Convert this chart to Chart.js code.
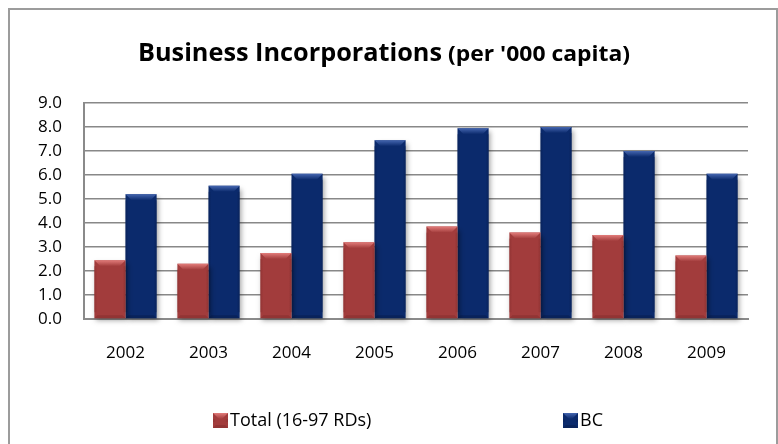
<!DOCTYPE html>
<html>
<head>
<meta charset="utf-8">
<script src="https://cdn.jsdelivr.net/npm/chart.js@4.4.1/dist/chart.umd.min.js"></script>
<style>
  html, body { margin: 0; padding: 0; background: #fff; overflow: hidden; }
  #frame {
    position: absolute; left: 8px; top: 8px;
    width: 770px; height: 470px;
    box-sizing: border-box;
    border: 2px solid #9c9c9c;
  }
  #incChart { position: absolute; left: 0; top: 0; }
</style>
</head>
<body>
<div id="frame"></div>
<canvas id="incChart" width="778" height="444"></canvas>
<script>
// Business incorporations per thousand people
const years = ["2002", "2003", "2004", "2005", "2006", "2007", "2008", "2009"];
const totalRDs = [2.45, 2.3, 2.75, 3.2, 3.85, 3.6, 3.5, 2.65];
const bcValues = [5.2, 5.55, 6.05, 7.45, 7.95, 8.0, 7.0, 6.05];
const yTicks = [0, 1, 2, 3, 4, 5, 6, 7, 8, 9];

const FONT = "'Open Sans', Lato, sans-serif";

const seriesStyle = [
  { fill: "#a23c3c", cap: "#e27c7a", edge: "#7e2a2a" },
  { fill: "#0b2a6c", cap: "#4566b0", edge: "#061a48" },
];

// Draws the bevelled top/bottom of a bar like an office chart
function bevel(ctx, left, right, top, bottom, style) {
  const b = Math.min(6, (bottom - top) / 2);
  // top cap
  let g = ctx.createLinearGradient(0, top, 0, top + b);
  g.addColorStop(0, style.cap);
  g.addColorStop(1, style.fill);
  ctx.fillStyle = g;
  ctx.beginPath();
  ctx.moveTo(left, top);
  ctx.lineTo(right, top);
  ctx.lineTo(right - b, top + b);
  ctx.lineTo(left + b, top + b);
  ctx.closePath();
  ctx.fill();
  // side edges
  ctx.globalAlpha = 0.45;
  g = ctx.createLinearGradient(left, 0, left + 3, 0);
  g.addColorStop(0, style.edge);
  g.addColorStop(1, style.fill);
  ctx.fillStyle = g;
  ctx.fillRect(left, top + b, 3, bottom - top - 2 * b);
  g = ctx.createLinearGradient(right - 3, 0, right, 0);
  g.addColorStop(0, style.fill);
  g.addColorStop(1, style.edge);
  ctx.fillStyle = g;
  ctx.fillRect(right - 3, top + b, 3, bottom - top - 2 * b);
  // bottom edge
  ctx.fillStyle = style.edge;
  ctx.beginPath();
  ctx.moveTo(left, bottom);
  ctx.lineTo(right, bottom);
  ctx.lineTo(right - 3, bottom - 3);
  ctx.lineTo(left + 3, bottom - 3);
  ctx.closePath();
  ctx.fill();
  ctx.globalAlpha = 1;
}

const barShadow = {
  id: "barShadow",
  beforeDatasetDraw(chart) {
    const ctx = chart.ctx;
    ctx.save();
    ctx.shadowColor = "rgba(0, 0, 0, 0.35)";
    ctx.shadowBlur = 5;
    ctx.shadowOffsetX = 2;
    ctx.shadowOffsetY = 3;
  },
  afterDatasetDraw(chart, args) {
    chart.ctx.restore();
    const ctx = chart.ctx;
    const style = seriesStyle[args.index];
    args.meta.data.forEach((bar) => {
      const p = bar.getProps(["x", "y", "base", "width"], true);
      bevel(ctx, p.x - p.width / 2, p.x + p.width / 2, p.y, p.base, style);
    });
  },
};

// bold text at a given size, squeezed horizontally into a width
function drawCondensed(ctx, text, size, x, y, width) {
  ctx.font = "bold " + size + "px " + FONT;
  const sx = width / ctx.measureText(text).width;
  ctx.save();
  ctx.translate(x, y);
  ctx.scale(sx, 1);
  ctx.fillText(text, 0, 0);
  ctx.restore();
}

// Two-size title above the plot
const splitTitle = {
  id: "splitTitle",
  afterDraw(chart) {
    const ctx = chart.ctx;
    ctx.save();
    ctx.fillStyle = "#000";
    ctx.textBaseline = "alphabetic";
    drawCondensed(ctx, "Business Incorporations", 25, 138, 61, 304);
    drawCondensed(ctx, "(per '000 capita)", 20.5, 448, 61, 182);
    ctx.restore();
  },
};

// Legend row under the axis
const legendRow = {
  id: "legendRow",
  afterDraw(chart) {
    const ctx = chart.ctx;
    const slots = [213, 563];
    ctx.save();
    chart.data.datasets.forEach((ds, i) => {
      const x = slots[i];
      const y = 413;
      const style = seriesStyle[i];
      ctx.fillStyle = style.fill;
      ctx.fillRect(x, y, 15, 15);
      bevel(ctx, x, x + 15, y, y + 15, style);
      ctx.fillStyle = "#000";
      ctx.font = "18px " + FONT;
      ctx.textBaseline = "middle";
      ctx.fillText(ds.label, x + 17, y + 8);
    });
    ctx.restore();
  },
};

const ctx = document.getElementById("incChart").getContext("2d");

new Chart(ctx, {
  type: "bar",
  data: {
    labels: years,
    datasets: [
      {
        label: "Total (16-97 RDs)",
        data: totalRDs,
        backgroundColor: seriesStyle[0].fill,
        clip: false,
      },
      {
        label: "BC",
        data: bcValues,
        backgroundColor: seriesStyle[1].fill,
        clip: false,
      },
    ],
  },
  options: {
    responsive: false,
    animation: false,
    devicePixelRatio: 1,
    layout: { padding: { left: 30, right: 30, top: 103, bottom: 0 } },
    datasets: {
      bar: { categoryPercentage: 0.75, barPercentage: 1 },
    },
    plugins: {
      legend: { display: false },
      title: { display: false },
      tooltip: { enabled: false },
    },
    scales: {
      x: {
        grid: { display: false, drawTicks: false },
        border: { display: true, color: "#8a8a8a", width: 2 },
        ticks: {
          color: "#000",
          padding: 24,
          font: { family: FONT, size: 17 },
        },
        afterFit: (scale) => {
          scale.height = 125;
        },
      },
      y: {
        min: 0,
        max: 9,
        afterBuildTicks: (scale) => {
          scale.ticks = yTicks.map((v) => ({ value: v }));
        },
        grid: { color: "#888888", lineWidth: 1.5, drawTicks: false },
        border: { display: true, color: "#8a8a8a", width: 2 },
        ticks: {
          color: "#000",
          padding: 22,
          font: { family: FONT, size: 17 },
          callback: (v) => Number(v).toFixed(1),
        },
        afterFit: (scale) => {
          scale.width = 54;
        },
      },
    },
  },
  plugins: [barShadow, splitTitle, legendRow],
});
</script>
</body>
</html>
